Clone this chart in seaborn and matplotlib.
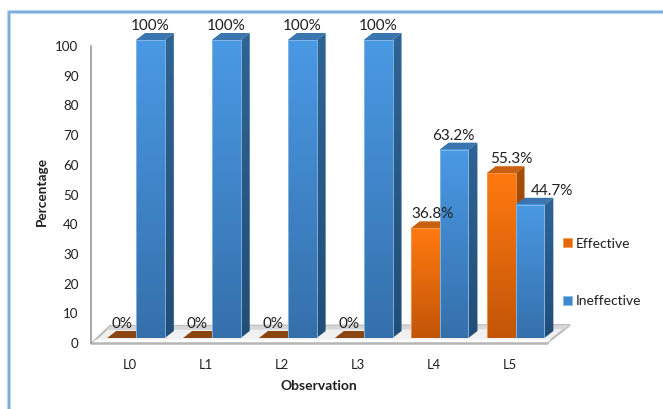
import numpy as np
import pandas as pd
import matplotlib
matplotlib.use("Agg")
import matplotlib.pyplot as plt
import seaborn as sns
from matplotlib.colors import LinearSegmentedColormap
from matplotlib.lines import Line2D
from matplotlib.patches import Patch, Polygon
from matplotlib.transforms import Affine2D, ScaledTranslation

observations = ["L0", "L1", "L2", "L3", "L4", "L5"]
effective = [0, 0, 0, 0, 36.8, 55.3]
ineffective = [100, 100, 100, 100, 63.2, 44.7]
effective_labels = ["0%", "0%", "0%", "0%", "36.8%", "55.3%"]
ineffective_labels = ["100%", "100%", "100%", "100%", "63.2%", "44.7%"]
y_ticks = list(range(0, 101, 10))

W, H = 663, 409
DEPTH_X, DEPTH_Y = 9, 7           # oblique depth of each column, pixels
PX_X, PX_Y = 75.9, 2.98           # pixels per category / per percentage point
TEXT = "#1f1f1f"

sns.set_theme(style="white")
plt.rcParams["font.family"] = ["Lato", "DejaVu Sans"]

fig = plt.figure(figsize=(W / 100, H / 100), dpi=100, facecolor="white")
px = Affine2D().scale(1, -1).translate(0, H)   # top-left pixel coordinates


def axes_rect(left, top, right, bottom):
    return [left / W, (H - bottom) / H, (right - left) / W, (bottom - top) / H]


# Chart frame: top and left rules only
for lw, col in ((3.0, "#bcd6ef"), (1.2, "#6ea6dc")):
    fig.add_artist(Line2D([9, 9, W], [H, 11.5, 11.5], transform=px, color=col, lw=lw,
                          zorder=-2))

# Floor of the 3-D plot, kept behind the axes
floor = [(92, 343), (110, 326), (570, 325), (547, 343)]
fig.add_artist(Polygon(floor, closed=True, transform=px, facecolor="#f0f0f0",
                       edgecolor="#b9b9b9", lw=1.4, zorder=-2))
fig.add_artist(Polygon([(110, 326), (570, 325), (565, 329), (106, 330)], closed=True,
                       transform=px, facecolor="#d6d6d6", edgecolor="none", zorder=-1.5))
fig.add_artist(Polygon([(92, 343), (547, 343), (551, 339.5), (96, 339.5)], closed=True,
                       transform=px, facecolor="#ffffff", edgecolor="none", zorder=-1.5))
fig.add_artist(Line2D([91, 547], [343, 343], transform=px, color="#b5b5b5", lw=1.8,
                      zorder=-1))

# Value axis, drawn on the back wall of the plot
back = fig.add_axes(axes_rect(91, 46, 547, 343), facecolor="none")
back.set_ylim(0, 100)
back.set_xticks([])
back.set_yticks(y_ticks)
back.tick_params(axis="y", length=0, pad=9, labelsize=9.6, labelcolor=TEXT)
for side in ("top", "right", "bottom"):
    back.spines[side].set_visible(False)
back.spines["left"].set_color("#9a9a9a")
back.spines["left"].set_linewidth(1.2)
back.set_ylabel("Percentage", fontsize=9.8, fontweight="bold", color=TEXT, va="center")
back.yaxis.set_label_coords(42, 192, transform=px)
back.set_xlabel("Observation", fontsize=10, fontweight="bold", color=TEXT, va="center")
back.xaxis.set_label_coords(319, 386, transform=px)

# Front faces of the columns
left_px, right_px = 92, 560
base_px, top_px = 338, 20
ax = fig.add_axes(axes_rect(left_px, top_px, right_px, base_px), facecolor="none")
frame = pd.DataFrame({
    "Observation": observations * 2,
    "Percentage": effective + ineffective,
    "Group": ["Effective"] * len(effective) + ["Ineffective"] * len(ineffective),
})
sns.barplot(data=frame, x="Observation", y="Percentage", hue="Group",
            hue_order=["Effective", "Ineffective"], width=0.76, legend=False,
            palette={"Effective": "#e8690d", "Ineffective": "#4189cf"}, ax=ax)

styles = {
    0: dict(front=("#ff7a10", "#c25507"), side=("#a84e08", "#843c06"),
            top="#c8600f", flat="#8a4510", edge="#f29a55"),
    1: dict(front=("#4a99e4", "#3570ab"), side=("#2e6496", "#214e78"),
            top="#3a75b0", flat="#3a75b0", edge="#8dbbe8"),
}
ramp = np.linspace(0, 1, 128).reshape(-1, 1)
dx = DEPTH_X / PX_X
dy = DEPTH_Y / PX_Y
z = 3
label_sets = (effective_labels, ineffective_labels)
# Sideways shift of labels that would otherwise sit on a neighbouring column
label_nudges = ((0, 0, 0, 0, 7, 10), (0, 0, 0, 0, -1, 22))

for s, container in enumerate(ax.containers):
    st = styles[s]
    for i, bar in enumerate(container):
        x0, w, h = bar.get_x(), bar.get_width(), bar.get_height()
        x1 = x0 + w
        z += 1
        top_face = Polygon([(x0, h), (x1, h), (x1 + dx, h + dy), (x0 + dx, h + dy)],
                           closed=True, facecolor=st["top"] if h > 0 else st["flat"],
                           edgecolor="none", zorder=z, clip_on=False)
        ax.add_patch(top_face)
        if h > 0:
            side = Polygon([(x1, 0), (x1 + dx, dy), (x1 + dx, h + dy), (x1, h)],
                           closed=True, facecolor="none", edgecolor="none", zorder=z)
            ax.add_patch(side)
            side_map = LinearSegmentedColormap.from_list("side", st["side"])
            im = ax.imshow(ramp, extent=(x1, x1 + dx, 0, h + dy), cmap=side_map,
                           aspect="auto", origin="upper", zorder=z)
            im.set_clip_path(side)
            front_map = LinearSegmentedColormap.from_list("front", st["front"])
            im = ax.imshow(ramp, extent=(x0, x1, 0, h), cmap=front_map,
                           aspect="auto", origin="upper", zorder=z + 0.1)
            bar.set_zorder(z + 0.2)
            bar.set_facecolor("none")
            bar.set_edgecolor(st["edge"])
            bar.set_linewidth(0.6)
        ax.annotate(label_sets[s][i], xy=(x0 + w / 2, h + dy),
                    xytext=(label_nudges[s][i] * 0.72, 0), textcoords="offset points",
                    ha="center", va="bottom", fontsize=11, color=TEXT,
                    zorder=50, annotation_clip=False)

ax.set_xlim((left_px - 136) / PX_X, (right_px - 136) / PX_X)
ax.set_ylim(0, (base_px - top_px) / PX_Y)
ax.set_xlabel("")
ax.set_ylabel("")
ax.set_yticks([])
ax.tick_params(axis="x", length=0, pad=15, labelsize=9.4, labelcolor=TEXT)
for spine in ax.spines.values():
    spine.set_visible(False)
shift = ScaledTranslation(-6 / 100, 0, fig.dpi_scale_trans)
for label in ax.get_xticklabels():
    label.set_transform(label.get_transform() + shift)

handles = [Patch(facecolor="#e8690d", edgecolor="#f29a55", lw=0.6),
           Patch(facecolor="#4189cf", edgecolor="#8dbbe8", lw=0.6)]
fig.legend(handles, ["Effective", "Ineffective"], loc="center left",
           bbox_to_anchor=(563 / W, (H - 272.5) / H), frameon=False, fontsize=10,
           labelspacing=3.3, handlelength=0.62, handleheight=0.62, handletextpad=0.3,
           labelcolor=TEXT, borderpad=0, borderaxespad=0)

fig.savefig("out.png", dpi=100)
